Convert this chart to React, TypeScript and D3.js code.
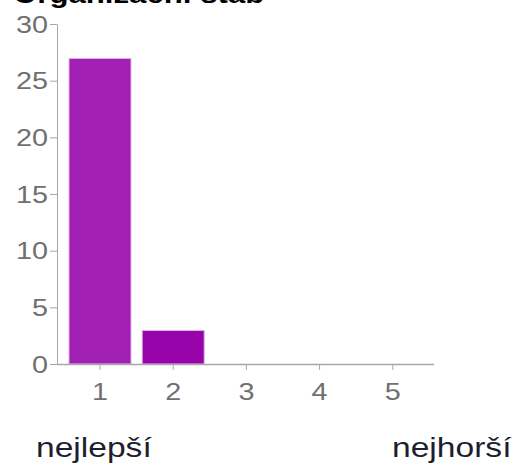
import { useRef, useEffect } from 'react';
import { select, scaleBand, scaleLinear, axisLeft, axisBottom } from 'd3';

const categories = ['1', '2', '3', '4', '5'];
const counts = [27, 3, 0, 0, 0];
const yTicks = [0, 5, 10, 15, 20, 25, 30];
const title = 'Organizační štáb';
const leftNote = 'nejlepší';
const rightNote = 'nejhorší';

const WIDTH = 518;
const HEIGHT = 464;
const AXIS_X = 57;
const AXIS_Y = 364;
const AXIS_END = 434;
// the reference looks stretched sideways, so text is widened a bit
const STRETCH = 1.2;
const FONT = '"Liberation Sans", Arial, sans-serif';
const BAR_COLORS = ['#a21fb4', '#9603a9'];
const LINE_COLOR = '#a8a8a8';
const TICK_TEXT = '#707070';

export default function App() {
  const svgRef = useRef(null);

  useEffect(() => {
    const svg = select(svgRef.current);
    const x = scaleBand<string>().domain(categories).range([63.4, 429.4]).paddingInner(0.14).paddingOuter(0.07);
    const y = scaleLinear().domain([0, 30]).range([AXIS_Y, 24]);

    const bars = svg
      .append('g')
      .selectAll('rect')
      .data(counts)
      .enter()
      .filter((d) => d > 0)
      .append('rect')
      .attr('x', (_d, i) => x(categories[i])! + 0.5)
      .attr('y', (d) => y(d) + 0.5)
      .attr('width', x.bandwidth() - 1)
      .attr('height', (d) => AXIS_Y - y(d) - 0.5)
      .attr('fill', (_d, i) => BAR_COLORS[i % BAR_COLORS.length])
      .attr('stroke', '#dcaee3')
      .attr('stroke-width', 1);

    const yAxis = svg
      .append('g')
      .attr('transform', `translate(${AXIS_X}, 0)`)
      .call(axisLeft(y).tickValues(yTicks).tickSize(7).tickSizeOuter(0));
    yAxis.select('.domain').attr('stroke', LINE_COLOR);
    yAxis.selectAll('.tick line').attr('stroke', LINE_COLOR);
    yAxis
      .selectAll<SVGTextElement, number>('.tick text')
      .attr('x', null)
      .attr('dy', null)
      .attr('transform', `translate(-9, 8) scale(${STRETCH}, 1)`)
      .attr('fill', TICK_TEXT)
      .attr('font-size', 24)
      .attr('font-family', FONT);

    const xAxis = svg
      .append('g')
      .attr('transform', `translate(0, ${AXIS_Y})`)
      .call(axisBottom(x).tickSize(6).tickSizeOuter(0));
    xAxis.select('.domain').attr('d', `M${AXIS_X},0.5H${AXIS_END}`).attr('stroke', LINE_COLOR).attr('stroke-width', 1.5);
    xAxis.selectAll('.tick line').attr('stroke', LINE_COLOR);
    xAxis
      .selectAll<SVGTextElement, string>('.tick text')
      .attr('y', null)
      .attr('dy', null)
      .attr('transform', `translate(0, 36) scale(${STRETCH}, 1)`)
      .attr('fill', TICK_TEXT)
      .attr('font-size', 24)
      .attr('font-family', FONT);

    const notes = svg.append('g').attr('font-family', FONT);
    notes
      .append('text')
      .attr('transform', `translate(13, 3) scale(${STRETCH}, 1)`)
      .attr('font-size', 26)
      .attr('font-weight', 'bold')
      .attr('fill', '#000')
      .text(title);
    notes
      .append('text')
      .attr('transform', `translate(36, 457) scale(${STRETCH}, 1)`)
      .attr('font-size', 28)
      .attr('fill', '#1e1e2e')
      .text(leftNote);
    notes
      .append('text')
      .attr('transform', `translate(392, 457) scale(${STRETCH}, 1)`)
      .attr('font-size', 28)
      .attr('fill', '#1e1e2e')
      .text(rightNote);

    return () => {
      bars.remove();
      yAxis.remove();
      xAxis.remove();
      notes.remove();
    };
  }, [svgRef]);

  return (
    <svg
      ref={svgRef}
      width={WIDTH}
      height={HEIGHT}
      style={{ position: 'absolute', left: 0, top: 0, background: '#fff' }}
    />
  );
}
